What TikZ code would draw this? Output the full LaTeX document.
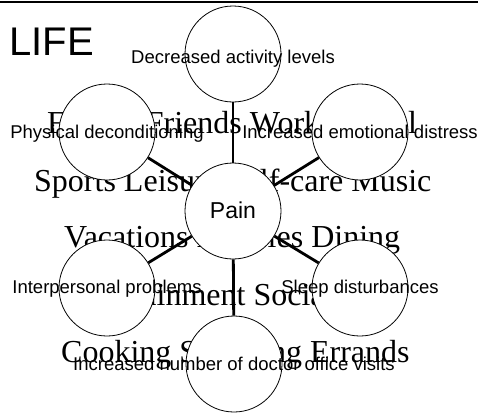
\documentclass[tikz,border=0pt]{standalone}
\usepackage{fontspec}
\setmainfont{Liberation Serif}
\newfontfamily\arialf{Liberation Sans}
\begin{document}
\begin{tikzpicture}[x=1pt,y=-1pt,
  bgtext/.style={inner sep=0pt,anchor=base west,font=\fontsize{32}{32}\selectfont},
  bub/.style={circle,draw=black,fill=white,line width=0.8pt,minimum size=96pt,inner sep=0pt},
  conn/.style={line width=2.8pt,black},
  lab/.style={inner sep=0pt,anchor=base,font=\arialf\fontsize{18.5}{18.5}\selectfont},
  painlab/.style={inner sep=0pt,anchor=base,font=\arialf\fontsize{23}{23}\selectfont},
  bigtitle/.style={inner sep=0pt,anchor=base west,font=\arialf\fontsize{40}{40}\selectfont}]
\useasboundingbox (0,0) rectangle (478,416);
\draw[line width=1.5pt] (0,1.8) -- (478,1.8);
\node[bigtitle] (life) at (9,55) {LIFE};
% background words
\node[bgtext] (r1) at (47,133) {Family Friends Work School};
\node[bgtext] (r2) at (34,191) {Sports Leisure Self-care Music};
\node[bgtext] (r3) at (64,247) {Vacations Hobbies Dining};
\node[bgtext] (r4) at (64,305) {Entertainment Socializing};
\node[bgtext] (r5) at (61,362) {Cooking Shopping Errands};
% circles
\node[bub] (pain) at (233,211) {};
\node[bub] (top) at (233,54) {};
\node[bub] (ul) at (107,132) {};
\node[bub] (ur) at (360,132) {};
\node[bub] (ll) at (107,288) {};
\node[bub] (lr) at (360,288) {};
\node[bub] (bot) at (234,364) {};
% connectors
\draw[conn] (pain) -- (top);
\draw[conn] (pain) -- (ul);
\draw[conn] (pain) -- (ur);
\draw[conn] (pain) -- (ll);
\draw[conn] (pain) -- (lr);
\draw[conn] (pain) -- (bot);
% labels
\node[painlab] (tpain) at (233,218) {Pain};
\node[lab] (ttop) at (233,63) {Decreased activity levels};
\node[lab] (tul) at (107,138.5) {Physical deconditioning};
\node[lab] (tur) at (360,138.5) {Increased emotional distress};
\node[lab] (tll) at (107,293) {Interpersonal problems};
\node[lab] (tlr) at (360,293) {Sleep disturbances};
\node[lab] (tbot) at (234,370.5) {Increased number of doctor office visits};
\end{tikzpicture}
\end{document}
